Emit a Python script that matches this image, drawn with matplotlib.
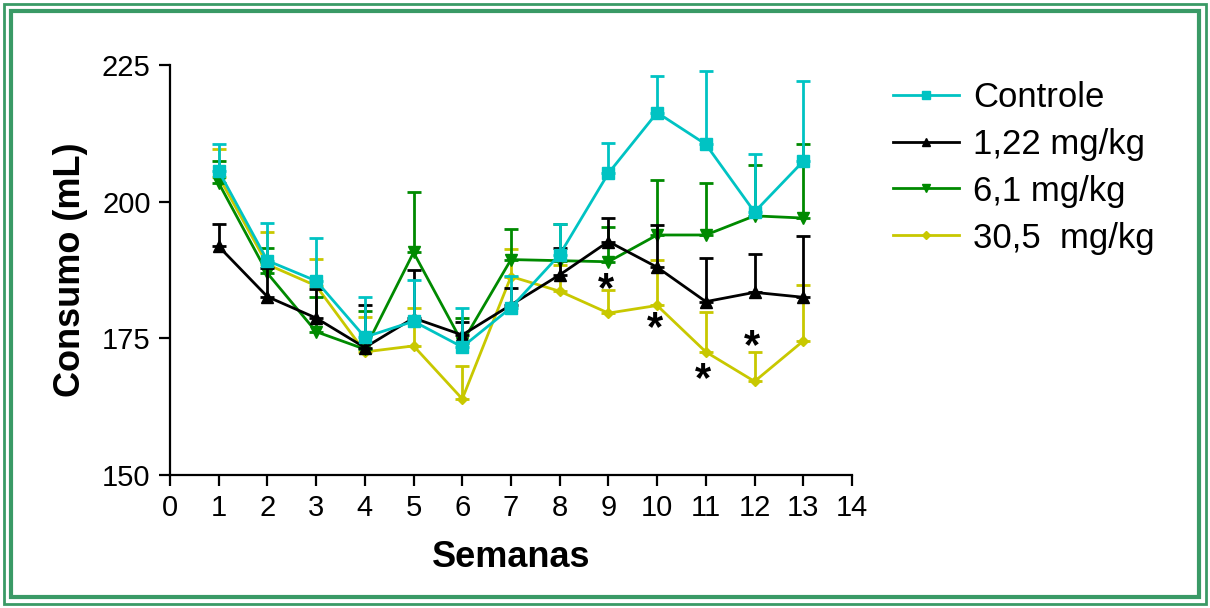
import matplotlib
matplotlib.use("Agg")
from matplotlib import pyplot as plt
from matplotlib.patches import Rectangle
import numpy as np

plt.rcParams['font.family'] = ['Liberation Sans', 'DejaVu Sans']

semanas = np.arange(1, 14)

controle = [205.6, 189.2, 185.5, 175.2, 178.1, 173.4, 180.6, 190.3, 205.2, 216.3, 210.5, 198.1, 207.4]
controle_top = [210.5, 196.1, 193.3, 182.5, 185.7, 180.5, 186.4, 196.0, 210.7, 223.0, 224.0, 208.7, 222.1]

dose_122 = [191.8, 182.6, 178.7, 173.3, 178.7, 175.6, 181.1, 186.6, 192.7, 188.0, 181.7, 183.4, 182.5]
dose_122_top = [195.9, 187.8, 184.0, 181.0, 187.5, 178.0, 184.2, 191.5, 197.0, 195.8, 189.7, 190.5, 193.7]

dose_61 = [203.4, 186.9, 176.2, 173.0, 190.7, 174.2, 189.4, 189.2, 189.0, 193.9, 193.9, 197.4, 197.0]
dose_61_top = [207.4, 191.5, 182.5, 180.0, 201.8, 178.7, 195.0, 196.0, 195.4, 204.0, 203.5, 206.7, 210.5]

dose_305 = [204.6, 188.5, 184.6, 172.5, 173.6, 163.9, 186.3, 183.6, 179.6, 181.0, 172.5, 167.1, 174.5]
dose_305_top = [209.6, 194.5, 189.5, 178.9, 180.5, 170.0, 191.4, 188.4, 183.9, 189.4, 179.8, 172.5, 184.7]

# significance marks (week, level)
asteriscos_x = [8.95, 9.95, 10.95, 11.95]
asteriscos_y = [183.8, 176.6, 167.4, 173.3]

series = [
    ("Controle", controle, controle_top, "#00c3c3", "s", 8, 4),
    ("1,22 mg/kg", dose_122, dose_122_top, "black", "^", 8, 3),
    ("6,1 mg/kg", dose_61, dose_61_top, "#008a00", "v", 8, 2),
    ("30,5  mg/kg", dose_305, dose_305_top, "#c8c800", "D", 5.5, 1),
]

fig = plt.figure(figsize=(12.1, 6.08), dpi=100)
ax = fig.add_axes([0.1405, 0.219, 0.5636, 0.674])

handles = []
for nome, vals, tops, cor, mk, ms, z in series:
    vals = np.array(vals)
    err = np.array(tops) - vals
    ax.errorbar(semanas, vals, yerr=[np.zeros_like(err), err], fmt="none",
                ecolor=cor, elinewidth=2, capsize=5, capthick=2, zorder=z)
    h, = ax.plot(semanas, vals, color=cor, lw=2, marker=mk, ms=ms, zorder=z + 0.5,
                 label=nome)
    handles.append(h)

for xa, ya in zip(asteriscos_x, asteriscos_y):
    ax.text(xa, ya, "*", ha="center", va="center", fontsize=30, fontweight="bold",
            color="black")

ax.set_xlim(0, 14)
ax.set_ylim(150, 225)
ax.set_xticks(range(0, 15))
ax.set_yticks([150, 175, 200, 225])
ax.spines[['top', 'right']].set_visible(False)
for s in ['left', 'bottom']:
    ax.spines[s].set_linewidth(1.6)
ax.tick_params(direction='out', length=8, width=1.6, labelsize=21, pad=6)
ax.set_xlabel("Semanas", fontsize=26, fontweight='bold', labelpad=13)
ax.set_ylabel("Consumo (mL)", fontsize=26, fontweight='bold', labelpad=10)

leg = fig.legend(handles=handles, loc='upper left', bbox_to_anchor=(0.738, 0.867),
                 frameon=False, fontsize=25, handlelength=1.9, handletextpad=0.4,
                 labelspacing=0.4, borderpad=0, borderaxespad=0, markerscale=0.75)

# double green frame around the whole figure
W, H = 1210, 608
for pad, lw in [(4, 2), (11, 3)]:
    fig.patches.append(Rectangle((pad / W, pad / H), 1 - 2 * pad / W, 1 - 2 * pad / H,
                                 transform=fig.transFigure, fill=False,
                                 edgecolor="#3a9a66", linewidth=lw))

fig.savefig("out.png", dpi=100)
